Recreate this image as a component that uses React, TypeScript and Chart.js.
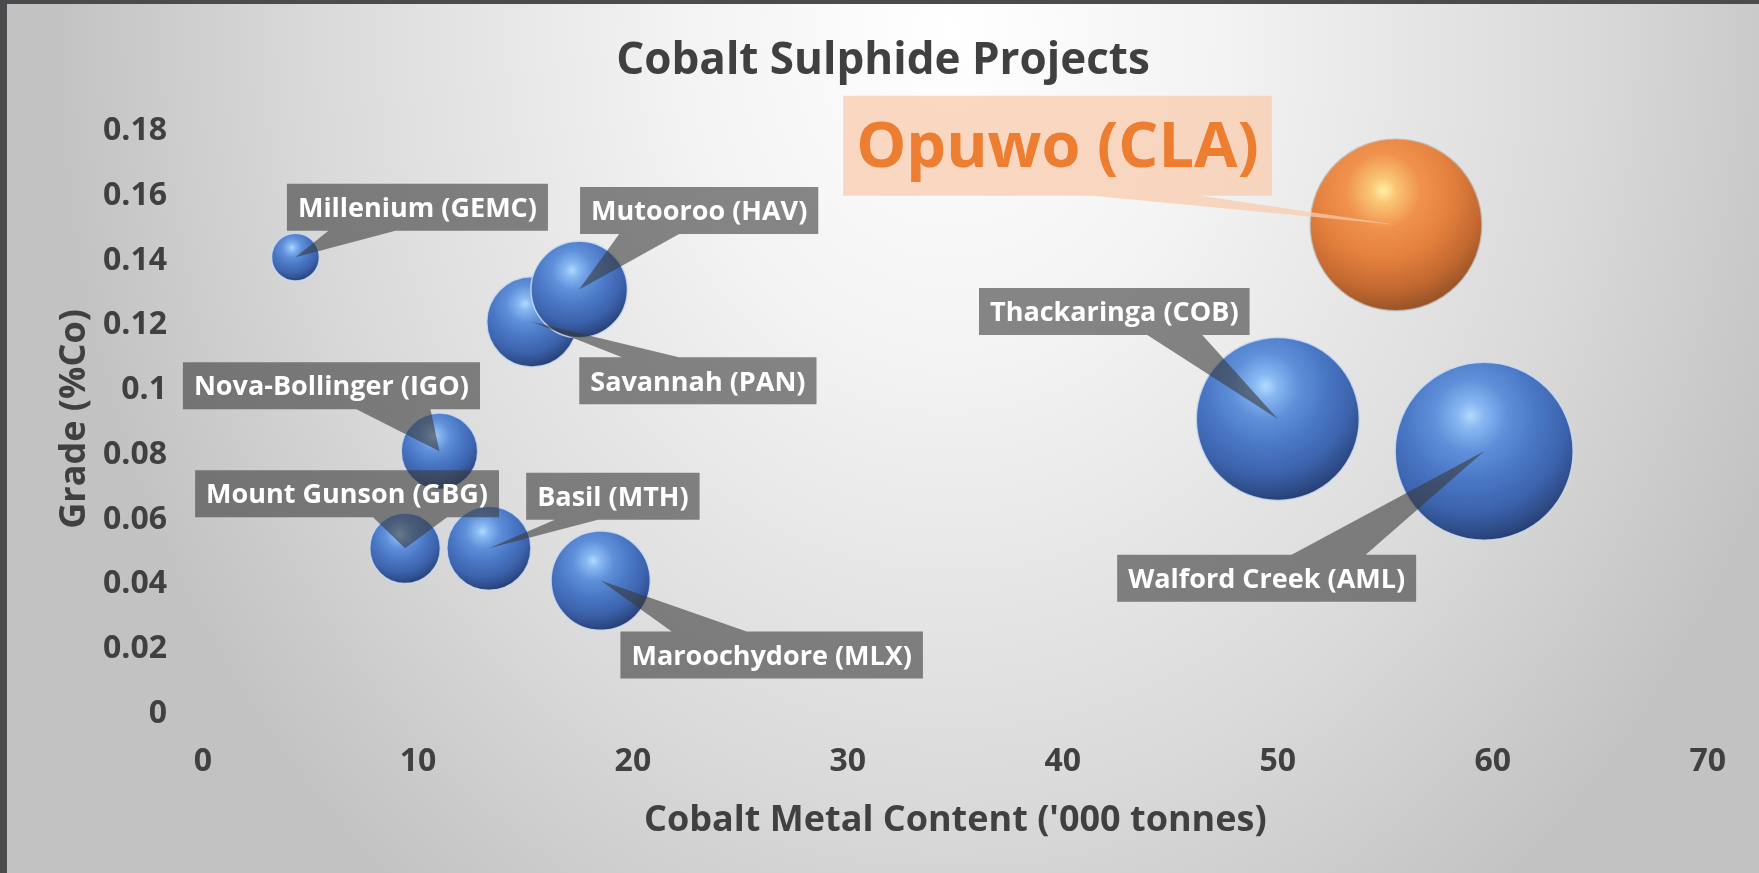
import React, { useEffect, useRef } from "react";
import { Chart, registerables } from "chart.js";

Chart.register(...registerables);

// ---------------- data ----------------
const projects = [
  "Millenium (GEMC)",
  "Mount Gunson (GBG)",
  "Nova-Bollinger (IGO)",
  "Basil (MTH)",
  "Savannah (PAN)",
  "Mutooroo (HAV)",
  "Maroochydore (MLX)",
  "Thackaringa (COB)",
  "Walford Creek (AML)",
  "Opuwo (CLA)",
];
// Cobalt metal content ('000 t) – also drives bubble size
const metalContent = [4.3, 9.4, 11.0, 13.3, 15.3, 17.5, 18.5, 50.0, 59.6, 55.5];
// Grade (%Co)
const grade = [0.14, 0.05, 0.08, 0.05, 0.12, 0.13, 0.04, 0.09, 0.08, 0.15];
const highlightProject = "Opuwo (CLA)";

const xTickValues = [0, 10, 20, 30, 40, 50, 60, 70];
const yTickValues = [0, 0.02, 0.04, 0.06, 0.08, 0.1, 0.12, 0.14, 0.16, 0.18];

const chartTitle = "Cobalt Sulphide Projects";
const xAxisTitle = "Cobalt Metal Content ('000 tonnes)";
const yAxisTitle = "Grade (%Co)";

// ---------------- styling ----------------
const FONT = "'Open Sans', 'DejaVu Sans', sans-serif";
const TEXT = "#404040";
const MAX_BUBBLE_R = 89;

// callout placement relative to each bubble (box centre offset, wedge base relative to box centre)
type Placement = { dx: number; dy: number; side: "top" | "bottom"; b0: number; b1: number };
const labelPlacement: Record<string, Placement> = {
  "Millenium (GEMC)": { dx: 122, dy: -50, side: "bottom", b0: -89, b1: -22 },
  "Mutooroo (HAV)": { dx: 120, dy: -79, side: "bottom", b0: -80, b1: -20 },
  "Savannah (PAN)": { dx: 166, dy: 59, side: "top", b0: -76, b1: -19 },
  "Nova-Bollinger (IGO)": { dx: -108, dy: -65.5, side: "bottom", b0: 25, b1: 99 },
  "Mount Gunson (GBG)": { dx: -58, dy: -54.5, side: "bottom", b0: 26, b1: 100 },
  "Basil (MTH)": { dx: 124, dy: -52, side: "bottom", b0: -58, b1: -15 },
  "Maroochydore (MLX)": { dx: 171, dy: 74.5, side: "top", b0: -100, b1: -25 },
  "Thackaringa (COB)": { dx: -163.5, dy: -107.5, side: "bottom", b0: 33, b1: 88 },
  "Walford Creek (AML)": { dx: -217.5, dy: 127, side: "top", b0: 25, b1: 99 },
  "Opuwo (CLA)": { dx: -338.5, dy: -79, side: "bottom", b0: 35, b1: 143 },
};

const blueStops: [number, string][] = [
  [0, "rgb(178,218,253)"],
  [0.1, "rgb(136,184,242)"],
  [0.28, "rgb(96,144,218)"],
  [0.5, "rgb(74,120,198)"],
  [0.75, "rgb(60,98,172)"],
  [0.9, "rgb(46,76,136)"],
  [1, "rgb(36,60,108)"],
];
const orangeStops: [number, string][] = [
  [0, "rgb(255,240,165)"],
  [0.1, "rgb(250,198,118)"],
  [0.3, "rgb(240,146,78)"],
  [0.55, "rgb(228,128,62)"],
  [0.8, "rgb(194,104,48)"],
  [1, "rgb(145,80,38)"],
];

Chart.defaults.font.family = FONT;

const maxMetal = Math.max(...metalContent);
const radiusFor = (v: number) => MAX_BUBBLE_R * Math.sqrt(v / maxMetal);

const points = projects.map((name, i) => ({
  name,
  x: metalContent[i],
  y: grade[i],
  r: radiusFor(metalContent[i]),
}));

function sphereFill(stops: [number, string][]) {
  return (c: any) => {
    const chart = c.chart;
    const raw = c.raw;
    const fallback = stops[3][1];
    if (!raw || !chart.scales || !chart.scales.x || !chart.scales.y) return fallback;
    const cx = chart.scales.x.getPixelForValue(raw.x);
    const cy = chart.scales.y.getPixelForValue(raw.y);
    const r = raw.r;
    if (!isFinite(cx) || !isFinite(cy) || !isFinite(r) || r <= 0) return fallback;
    const hx = cx - 0.15 * r;
    const hy = cy - 0.4 * r;
    const g = chart.ctx.createRadialGradient(hx, hy, 0, hx, hy, 1.45 * r);
    stops.forEach(([o, col]) => g.addColorStop(o, col));
    return g;
  };
}

const backgroundPlugin = {
  id: "slideBackground",
  beforeDraw(chart: any) {
    const ctx = chart.ctx as CanvasRenderingContext2D;
    ctx.save();
    ctx.translate(943, 26);
    ctx.scale(1, 1.22);
    const g = ctx.createRadialGradient(0, 0, 0, 0, 0, 900);
    g.addColorStop(0, "#ffffff");
    g.addColorStop(0.3, "#f3f3f3");
    g.addColorStop(0.7, "#dadada");
    g.addColorStop(1, "#c2c2c2");
    ctx.fillStyle = g;
    ctx.fillRect(-3000, -3000, 6000, 6000);
    ctx.restore();
  },
};

const calloutPlugin = {
  id: "callouts",
  afterDatasetsDraw(chart: any) {
    const ctx = chart.ctx as CanvasRenderingContext2D;
    chart.data.datasets.forEach((ds: any, di: number) => {
      const meta = chart.getDatasetMeta(di);
      meta.data.forEach((el: any, i: number) => {
        const name = ds.data[i].name;
        const p = labelPlacement[name];
        if (!p || !isFinite(el.x) || !isFinite(el.y)) return;
        const big = name === highlightProject;
        ctx.save();
        ctx.font = big ? `bold 63px ${FONT}` : `bold 27px ${FONT}`;
        const tw = ctx.measureText(name).width;
        const w = tw + 2 * (big ? 13 : 11);
        const h = big ? 100 : 47;
        const cx = el.x + p.dx;
        const cy = el.y + p.dy;
        const L = cx - w / 2, R = cx + w / 2, T = cy - h / 2, B = cy + h / 2;
        const b0 = cx + p.b0, b1 = cx + p.b1;
        ctx.beginPath();
        if (p.side === "bottom") {
          ctx.moveTo(L, T);
          ctx.lineTo(R, T);
          ctx.lineTo(R, B);
          ctx.lineTo(b1, B);
          ctx.lineTo(el.x, el.y);
          ctx.lineTo(b0, B);
          ctx.lineTo(L, B);
        } else {
          ctx.moveTo(L, T);
          ctx.lineTo(b0, T);
          ctx.lineTo(el.x, el.y);
          ctx.lineTo(b1, T);
          ctx.lineTo(R, T);
          ctx.lineTo(R, B);
          ctx.lineTo(L, B);
        }
        ctx.closePath();
        ctx.fillStyle = big ? "rgba(248,203,173,0.75)" : "rgba(58,58,58,0.6)";
        ctx.fill();
        ctx.fillStyle = big ? "#ED7D31" : "#ffffff";
        ctx.textAlign = "center";
        ctx.textBaseline = "middle";
        ctx.fillText(name, cx, cy + (big ? 3 : 2));
        ctx.restore();
      });
    });
  },
};

export default function App() {
  const canvasRef = useRef<HTMLCanvasElement | null>(null);

  useEffect(() => {
    document.body.style.margin = "0";
    let chart: Chart | null = null;
    let cancelled = false;

    const make = () => {
      if (cancelled || !canvasRef.current) return;
      chart = new Chart(canvasRef.current, {
        type: "bubble",
        data: {
          datasets: [
            {
              label: "Peers",
              data: points.filter((p) => p.name !== highlightProject) as any,
              backgroundColor: sphereFill(blueStops) as any,
              borderColor: "rgba(205,220,240,0.85)",
              borderWidth: 1.5,
              clip: false as any,
            },
            {
              label: "Opuwo",
              data: points.filter((p) => p.name === highlightProject) as any,
              backgroundColor: sphereFill(orangeStops) as any,
              borderColor: "rgba(190,190,190,0.7)",
              borderWidth: 1.5,
              clip: false as any,
            },
          ],
        },
        options: {
          responsive: false,
          animation: false,
          events: [],
          layout: { autoPadding: false, padding: { left: 48, right: 48, top: 0, bottom: 0 } },
          plugins: {
            legend: { display: false },
            tooltip: { enabled: false },
            title: {
              display: true,
              text: chartTitle,
              color: TEXT,
              font: { size: 44, weight: "bold", family: FONT },
              padding: { top: 31, bottom: 40 },
            },
          },
          scales: {
            x: {
              type: "linear",
              min: 0,
              max: 70,
              afterBuildTicks: (s: any) => {
                s.ticks = xTickValues.map((v) => ({ value: v }));
              },
              afterFit: (s: any) => {
                s.height = 163;
              },
              grid: { display: false, drawTicks: false },
              border: { display: false },
              ticks: {
                padding: 33,
                color: TEXT,
                font: { size: 32, weight: "bold", family: FONT },
                callback: (v: any) => `${+Number(v).toFixed(2)}`,
              },
              title: {
                display: true,
                text: xAxisTitle,
                color: TEXT,
                font: { size: 36, weight: "bold", family: FONT },
                padding: { top: 0, bottom: 31 },
              },
            },
            y: {
              type: "linear",
              min: 0,
              max: 0.18,
              afterBuildTicks: (s: any) => {
                s.ticks = yTickValues.map((v) => ({ value: v }));
              },
              afterFit: (s: any) => {
                s.width = 148;
              },
              grid: { display: false, drawTicks: false },
              border: { display: false },
              ticks: {
                padding: 36,
                labelOffset: 3.5,
                color: TEXT,
                font: { size: 32, weight: "bold", family: FONT },
                callback: (v: any) => `${+Number(v).toFixed(2)}`,
              },
              title: {
                display: true,
                text: yAxisTitle,
                color: TEXT,
                font: { size: 36, weight: "bold", family: FONT },
                padding: { top: -1.6, bottom: 0 },
              },
            },
          },
        } as any,
        plugins: [backgroundPlugin, calloutPlugin],
      });
    };

    const fonts = (document as any).fonts;
    if (fonts && fonts.load) {
      Promise.all([
        fonts.load(`bold 32px "Open Sans"`),
        fonts.load(`32px "Open Sans"`),
      ]).then(make, make);
    } else {
      make();
    }

    return () => {
      cancelled = true;
      if (chart) chart.destroy();
    };
  }, []);

  return (
    <div
      style={{
        width: 1759,
        height: 873,
        boxSizing: "border-box",
        borderTop: "4px solid #4b4b4e",
        borderLeft: "7px solid #4b4b4e",
        overflow: "hidden",
        background: "#d8d8d8",
      }}
    >
      <canvas ref={canvasRef} width={1752} height={869} style={{ display: "block" }} />
    </div>
  );
}
